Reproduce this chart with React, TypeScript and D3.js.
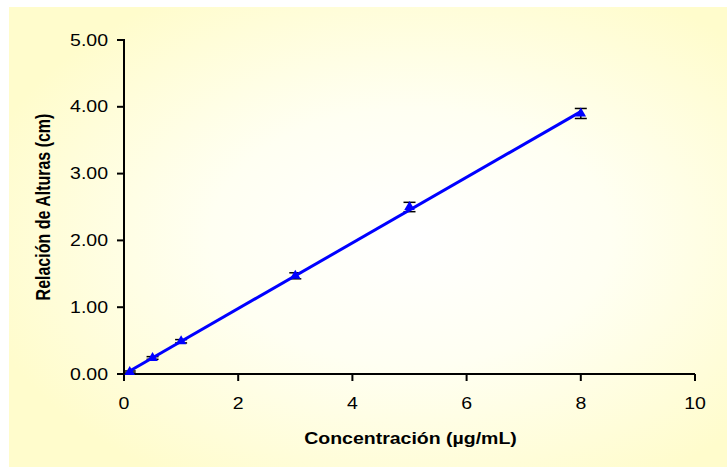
import React from "react";
import * as d3 from "d3";

// Calibration data: concentration (µg/mL) vs. peak height ratio (cm)
const concentrations = [0.1, 0.5, 1, 3, 5, 8];
const heightRatios = [0.03, 0.24, 0.49, 1.47, 2.5, 3.9];
const ratioErrors = [0.015, 0.02, 0.025, 0.045, 0.07, 0.075];

const xTicks = [0, 2, 4, 6, 8, 10];
const yTicks = [0, 1, 2, 3, 4, 5];

const xTitle = "Concentración (µg/mL)";
const yTitle = "Relación de Alturas (cm)";

const W = 728;
const H = 468;
const margin = { left: 124, right: 33, top: 40, bottom: 94 };
const SX = 1.22; // horizontal text stretch

export default function App() {
  const x = d3.scaleLinear().domain([0, 10]).range([margin.left, W - margin.right]);
  const y = d3.scaleLinear().domain([0, 5]).range([H - margin.bottom, margin.top]);

  // least-squares fit
  const mx = d3.mean(concentrations)!;
  const my = d3.mean(heightRatios)!;
  const sxy = d3.sum(concentrations.map((c, i) => (c - mx) * (heightRatios[i] - my)));
  const sxx = d3.sum(concentrations.map((c) => (c - mx) ** 2));
  const slope = sxy / sxx;
  const intercept = my - slope * mx;
  const [x0, x1] = d3.extent(concentrations) as [number, number];
  const fitLine = d3
    .line<number>()
    .x((c) => x(c))
    .y((c) => y(intercept + slope * c))([x0, x1]);

  const tri = d3.symbol().type(d3.symbolTriangle).size(48)();

  const y0 = y(0);
  const font = "'Liberation Sans', Arial, sans-serif";

  return (
    <svg
      width={W}
      height={H}
      style={{ position: "absolute", left: 0, top: 0, background: "#fff" }}
    >
      <defs>
        <radialGradient id="bg" cx="0.56" cy="0.5" r="0.62">
          <stop offset="0" stopColor="#ffffff" />
          <stop offset="0.45" stopColor="#fffff2" />
          <stop offset="1" stopColor="#fffccc" />
        </radialGradient>
      </defs>
      <rect x={9} y={7} width={718} height={460} fill="url(#bg)" />

      {/* axes */}
      <line x1={x(0)} x2={x(0)} y1={y(5) - 1} y2={y0} stroke="#000" strokeWidth={2} />
      <line x1={x(0) - 1} x2={x(10)} y1={y0} y2={y0} stroke="#000" strokeWidth={2} />

      {yTicks.map((t) => (
        <g key={"y" + t}>
          <line x1={x(0) - 7} x2={x(0)} y1={y(t)} y2={y(t)} stroke="#000" strokeWidth={2} />
          <text
            transform={`translate(${x(0) - 16},${y(t) + 5.5}) scale(${SX},1)`}
            textAnchor="end"
            fontFamily={font}
            fontSize={16}
            fill="#000"
          >
            {t.toFixed(2)}
          </text>
        </g>
      ))}

      {xTicks.map((t) => (
        <g key={"x" + t}>
          <line x1={x(t)} x2={x(t)} y1={y0} y2={y0 + 7} stroke="#000" strokeWidth={2} />
          <text
            transform={`translate(${x(t)},${y0 + 35}) scale(${SX},1)`}
            textAnchor="middle"
            fontFamily={font}
            fontSize={16}
            fill="#000"
          >
            {t}
          </text>
        </g>
      ))}

      <text
        transform={`translate(${(x(0) + x(10)) / 2 + 1},${y0 + 70}) scale(${SX},1)`}
        textAnchor="middle"
        fontFamily={font}
        fontSize={16}
        fontWeight="bold"
        fill="#000"
      >
        {xTitle}
      </text>
      <text
        transform={`translate(${50},${(y(0) + y(5)) / 2}) scale(${SX},1) rotate(-90)`}
        textAnchor="middle"
        fontFamily={font}
        fontSize={16}
        fontWeight="bold"
        fill="#000"
      >
        {yTitle}
      </text>

      {/* error bars */}
      {concentrations.map((c, i) => {
        const cx = x(c);
        const top = y(heightRatios[i] + ratioErrors[i]);
        const bot = y(heightRatios[i] - ratioErrors[i]);
        return (
          <g key={"e" + i} stroke="#000" strokeWidth={1.5}>
            <line x1={cx} x2={cx} y1={top} y2={bot} />
            <line x1={cx - 6} x2={cx + 6} y1={top} y2={top} />
            <line x1={cx - 6} x2={cx + 6} y1={bot} y2={bot} />
          </g>
        );
      })}

      {/* regression line */}
      <path d={fitLine ?? ""} fill="none" stroke="#0000ff" strokeWidth={3} />

      {/* markers */}
      {concentrations.map((c, i) => (
        <path
          key={"m" + i}
          d={tri ?? ""}
          transform={`translate(${x(c)},${y(heightRatios[i])})`}
          fill="#0000ff"
        />
      ))}
    </svg>
  );
}
